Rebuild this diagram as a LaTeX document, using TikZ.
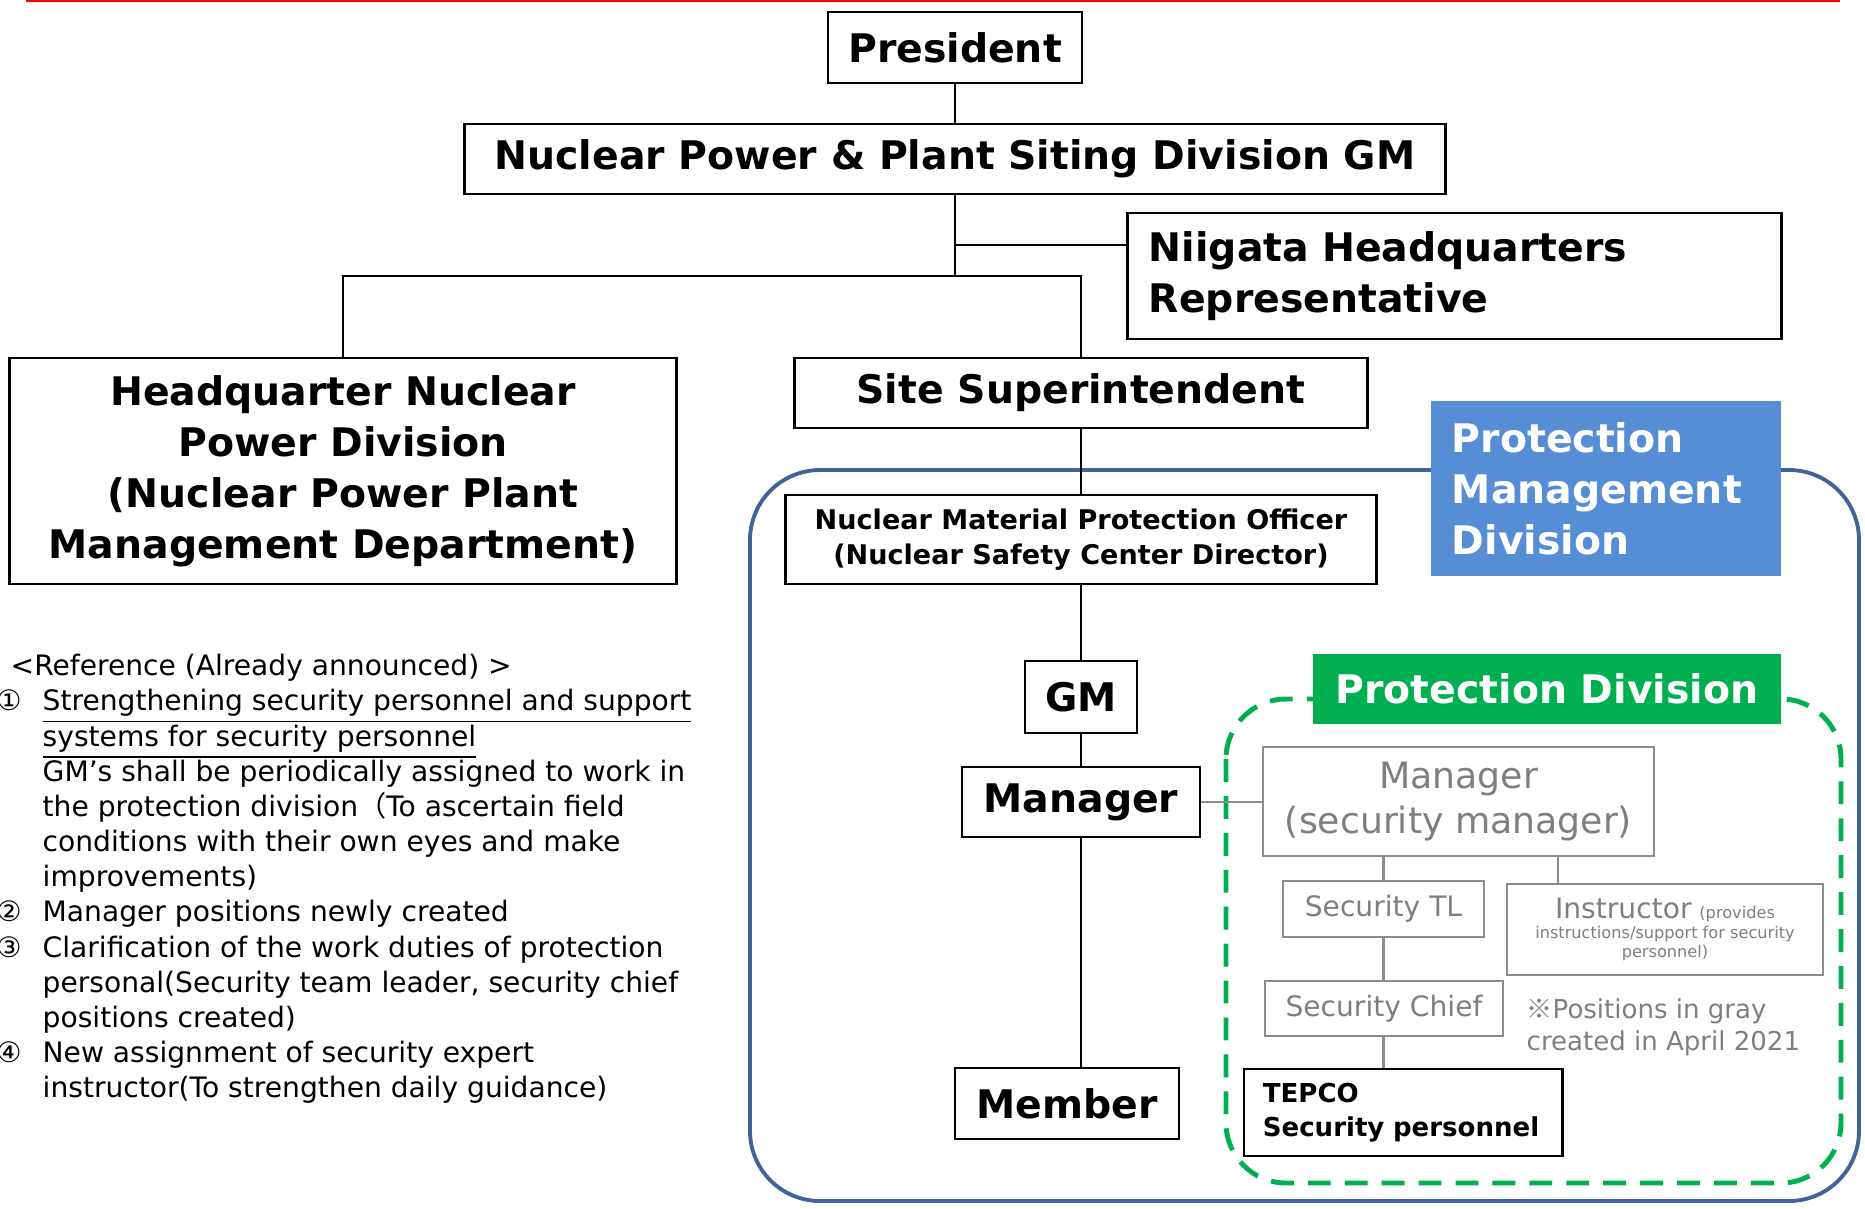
\documentclass[tikz,border=0pt]{standalone}
\usepackage{fontspec}
\setmainfont{DejaVu Sans}
\newfontfamily\cjk{Noto Sans CJK JP}
\usepackage{tikz}
\usepackage{xcolor}
\usetikzlibrary{positioning, calc}

\definecolor{pmdblue}{RGB}{85,142,213}
\definecolor{frameblue}{RGB}{65,100,150}
\definecolor{pdgreen}{RGB}{0,176,80}
\definecolor{boxgray}{RGB}{140,140,140}
\definecolor{textgray}{RGB}{127,127,127}

\newcommand\bigfont{\fontsize{11.2}{14.5}\selectfont\bfseries}
\newcommand\midfont{\fontsize{7.7}{9.8}\selectfont\bfseries}
\newcommand\smallbold{\fontsize{7.4}{9.5}\selectfont\bfseries}

\begin{document}
\begin{tikzpicture}[x=0.01cm, y=-0.01cm,
        box/.style={draw, line width=0.8pt, fill=white, inner sep=0pt, font=\bigfont},
        graybox/.style={draw=boxgray, line width=0.7pt, fill=white, inner sep=0pt, text=textgray},
        conn/.style={line width=0.6pt},
        grayconn/.style={line width=0.7pt, draw=boxgray}]
        \useasboundingbox (0,0) rectangle (1865,1208);
        \draw[red, line width=0.7pt] (26,1) -- (1840,1);

        % upper chain
        \node[box, minimum width=2.54cm, minimum height=0.71cm] (pres) at (955,47.5) {President};
        \node[box, minimum width=9.8cm, minimum height=0.7cm] (siting) at (955,159) {Nuclear Power \& Plant Siting Division GM};
        \node[box, minimum height=1.26cm, text width=6.11cm, inner xsep=0.21cm, align=left] (niigata) at (1454.5,276) {Niigata Headquarters\\Representative};
        \node[box, minimum width=6.66cm, minimum height=2.26cm, align=center] (hq) at (343,471) {Headquarter Nuclear\\Power Division\\(Nuclear Power Plant\\Management Department)};
        \node[box, minimum width=5.72cm, minimum height=0.7cm] (site) at (1081,393) {Site Superintendent};
        \coordinate (bus) at (955,276);
        \coordinate (tap) at (955,245);
        \draw[conn] (pres) -- (siting);
        \draw[conn] (siting) -- (bus);
        \draw[conn] (tap) -- (tap -| niigata.west);
        \draw[conn] (hq) |- (bus) -| (site);

        % protection management division
        \draw[frameblue, line width=1.1pt, rounded corners=0.7cm] (750,470) rectangle (1859,1201);
        \node[fill=pmdblue, text=white, font=\bigfont, inner xsep=0.21cm, inner ysep=0pt, text width=3.08cm, minimum height=1.75cm, align=left] (pmd) at (1606,488.5) {Protection\\Management\\Division};
        \node[box, minimum width=5.9cm, minimum height=0.89cm, font=\midfont, align=center] (nmpo) at (1081,539.5) {Nuclear Material Protection Officer\\(Nuclear Safety Center Director)};
        \node[box, minimum width=1.12cm, minimum height=0.72cm] (gm) at (1081,697) {GM};
        \node[box, minimum width=2.38cm, minimum height=0.7cm] (mgr) at (1081,802) {Manager};
        \node[box, minimum width=2.24cm, minimum height=0.71cm] (member) at (1067,1103.5) {Member};
        \draw[conn] (site) -- (nmpo);
        \draw[conn] (nmpo) -- (gm);
        \draw[conn] (gm) -- (mgr);
        \draw[conn] (mgr.south) -- (mgr.south |- member.north);

        % protection division
        \draw[pdgreen, line width=1.4pt, dash pattern=on 6.5pt off 4pt, rounded corners=0.6cm] (1226,699) rectangle (1841,1183);
        \node[fill=pdgreen, text=white, font=\bigfont, inner sep=0pt, minimum width=4.68cm, minimum height=0.7cm] (pd) at (1547,689) {Protection Division};
        \node[graybox, minimum width=3.91cm, minimum height=1.09cm, align=center, font=\fontsize{10.3}{12.8}\selectfont] (smgr) at (1458.5,801.5) {Manager\\(security manager)};
        \node[graybox, minimum width=2.01cm, minimum height=0.56cm, font=\fontsize{8}{10}\selectfont] (stl) at (1383.5,909) {Security TL};
        \node[graybox, minimum width=3.16cm, minimum height=0.91cm, align=center, font=\fontsize{4.6}{5.6}\selectfont] (instr) at (1665,929.5) {{\fontsize{8}{5.6}\selectfont Instructor} \,(provides\\instructions/support for security\\personnel)};
        \node[graybox, minimum width=2.38cm, minimum height=0.55cm, font=\fontsize{8}{10}\selectfont] (schief) at (1384,1008.5) {Security Chief};
        \node[box, font=\smallbold, minimum height=0.87cm, text width=2.8cm, inner xsep=0.19cm, align=left] (tepco) at (1403,1112.5) {TEPCO\\Security personnel};
        \node[anchor=base west, inner sep=0pt, text=textgray, align=left, font=\fontsize{7.4}{9.1}\selectfont] (note) at (1526,1050) {{\cjk ※}Positions in gray\\created in April 2021};
        \coordinate (itap) at (1558,856);
        \draw[grayconn] (mgr.east) -- (mgr.east -| smgr.west);
        \draw[grayconn] (smgr.south -| stl) -- (stl);
        \draw[grayconn] (itap) -- (itap |- instr.north);
        \draw[grayconn] (stl) -- (stl |- schief.north);
        \draw[grayconn] (stl |- schief.south) -- (stl |- tepco.north);

        % notes on the left
        \node[anchor=base west, inner sep=0pt, font=\fontsize{8}{10}\selectfont] (refhead) at (10,675.6) {<Reference (Already announced) >};
        \node[anchor=base west, inner sep=0pt, align=left, font=\fontsize{8}{10}\selectfont] (notes) at (42,1097.8) {%
            \llap{①\hspace{6pt}}\underline{Strengthening security personnel and support}\\
            \underline{systems for security personnel}\\
            GM’s shall be periodically assigned to work in\\
            the protection division{\cjk （}To ascertain field\\
            conditions with their own eyes and make\\
            improvements)\\
            \llap{②\hspace{6pt}}Manager positions newly created\\
            \llap{③\hspace{6pt}}Clarification of the work duties of protection\\
            personal(Security team leader, security chief\\
            positions created)\\
            \llap{④\hspace{6pt}}New assignment of security expert\\
            instructor(To strengthen daily guidance)};
    \end{tikzpicture}
\end{document}
